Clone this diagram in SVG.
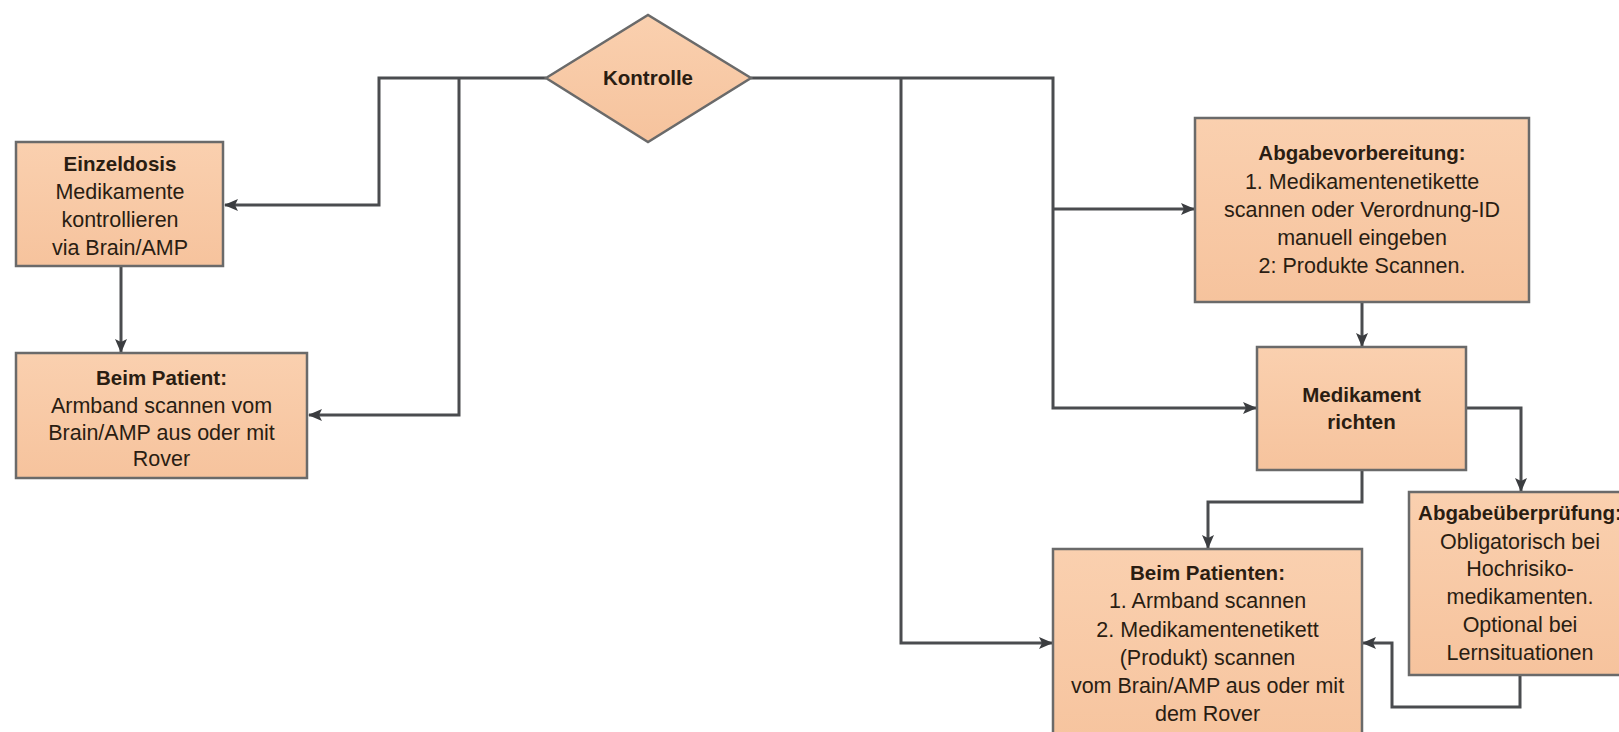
<svg xmlns="http://www.w3.org/2000/svg" width="1619" height="732" viewBox="0 0 1619 732">
<defs>
<linearGradient id="peach" x1="0" y1="0" x2="0" y2="1">
<stop offset="0" stop-color="#FAD0AF"/>
<stop offset="1" stop-color="#F6C39D"/>
</linearGradient>
<marker id="arr" viewBox="0 0 14 12" refX="13" refY="6" markerWidth="14" markerHeight="12" markerUnits="userSpaceOnUse" orient="auto">
<path d="M0,0 L14,6 L0,12 L3,6 Z" fill="#3b3d40"/>
</marker>
<style>
.box{fill:url(#peach);stroke:#6a6a6a;stroke-width:2.5}
.t{font-family:"Liberation Sans",Arial,sans-serif;font-size:21.5px;fill:#2a1d12;text-anchor:middle}
.b{font-weight:bold;font-size:20.5px}
.c{fill:none;stroke:#4a4c4f;stroke-width:3;marker-end:url(#arr)}
.n{fill:none;stroke:#4a4c4f;stroke-width:3}
</style>
</defs>
<rect width="1619" height="732" fill="#ffffff"/>
<g id="connectors">
<path class="c" d="M546,78 H379 V205 H225"/>
<path class="c" d="M459,78 V415 H309"/>
<path class="c" d="M121,266 V352"/>
<path class="c" d="M751,78 H1053 V408 H1256"/>
<path class="c" d="M1053,209 H1194"/>
<path class="c" d="M901,78 V643 H1052"/>
<path class="c" d="M1362,302 V346"/>
<path class="c" d="M1466,408 H1521 V491"/>
<path class="c" d="M1362,470 V502 H1208 V548"/>
<path class="c" d="M1520,675 V707 H1392 V643 H1363"/>
</g>
<g id="kontrolle">
<polygon class="box" points="546,78 648,15 751,78 648,142"/>
<text class="t b" x="648" y="85">Kontrolle</text>
</g>
<g id="einzeldosis">
<rect class="box" x="16" y="142" width="207" height="124"/>
<text class="t"><tspan class="b" x="120" y="170.5">Einzeldosis</tspan><tspan x="120" y="198.5">Medikamente</tspan><tspan x="120" y="226.5">kontrollieren</tspan><tspan x="120" y="254.5">via Brain/AMP</tspan></text>
</g>
<g id="beim-patient">
<rect class="box" x="16" y="353" width="291" height="125"/>
<text class="t"><tspan class="b" x="161.5" y="384.5">Beim Patient:</tspan><tspan x="161.5" y="412.5">Armband scannen vom</tspan><tspan x="161.5" y="439.5">Brain/AMP aus oder mit</tspan><tspan x="161.5" y="466">Rover</tspan></text>
</g>
<g id="abgabevorbereitung">
<rect class="box" x="1195" y="118" width="334" height="184"/>
<text class="t"><tspan class="b" x="1362" y="160">Abgabevorbereitung:</tspan><tspan x="1362" y="189">1. Medikamentenetikette</tspan><tspan x="1362" y="216.5">scannen oder Verordnung-ID</tspan><tspan x="1362" y="244.5">manuell eingeben</tspan><tspan x="1362" y="273">2: Produkte Scannen.</tspan></text>
</g>
<g id="medikament-richten">
<rect class="box" x="1257" y="347" width="209" height="123"/>
<text class="t"><tspan class="b" x="1361.5" y="402">Medikament</tspan><tspan class="b" x="1361.5" y="429">richten</tspan></text>
</g>
<g id="abgabeueberpruefung">
<rect class="box" x="1409" y="492" width="240" height="183"/>
<text class="t"><tspan class="b" x="1520" y="520">Abgabeüberprüfung:</tspan><tspan x="1520" y="549">Obligatorisch bei</tspan><tspan x="1520" y="576">Hochrisiko-</tspan><tspan x="1520" y="604">medikamenten.</tspan><tspan x="1520" y="632">Optional bei</tspan><tspan x="1520" y="660">Lernsituationen</tspan></text>
</g>
<g id="beim-patienten">
<rect class="box" x="1053" y="549" width="309" height="210"/>
<text class="t"><tspan class="b" x="1207.5" y="579.5">Beim Patienten:</tspan><tspan x="1207.5" y="607.5">1. Armband scannen</tspan><tspan x="1207.5" y="637">2. Medikamentenetikett</tspan><tspan x="1207.5" y="664.5">(Produkt) scannen</tspan><tspan x="1207.5" y="692.5">vom Brain/AMP aus oder mit</tspan><tspan x="1207.5" y="721">dem Rover</tspan></text>
</g>
</svg>
